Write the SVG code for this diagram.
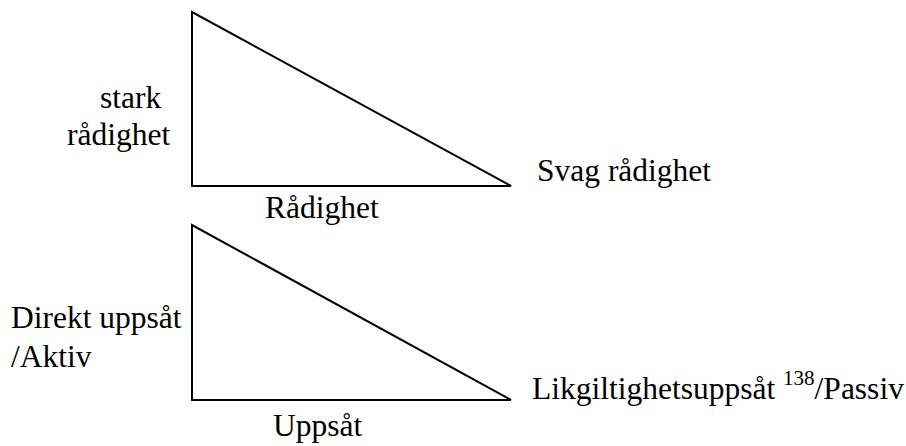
<svg xmlns="http://www.w3.org/2000/svg" width="906" height="446" viewBox="0 0 906 446">
<style>
.t{font-family:"Liberation Serif","Times New Roman",serif;font-size:31.5px;fill:#000}
.s{font-size:21px}
.tri{fill:none;stroke:#000;stroke-width:2}
</style>
<rect width="906" height="446" fill="#fff"/>
<g id="triangle1">
<polygon class="tri" points="192,12 192,186 511,186"/>
</g>
<g id="triangle2">
<polygon class="tri" points="192,225 192,400 511,400"/>
</g>
<g id="labels1">
<text class="t" x="100" y="108">stark</text>
<text class="t" x="67" y="145">rådighet</text>
<text class="t" x="537" y="181">Svag rådighet</text>
<text class="t" x="265" y="218">Rådighet</text>
</g>
<g id="labels2">
<text class="t" x="11" y="328">Direkt uppsåt</text>
<text class="t" x="11" y="367">/Aktiv</text>
<text class="t" x="532" y="399">Likgiltighetsuppsåt <tspan class="s" dy="-14">138</tspan><tspan dy="14">/Passiv</tspan></text>
<text class="t" x="273" y="436">Uppsåt</text>
</g>
</svg>
